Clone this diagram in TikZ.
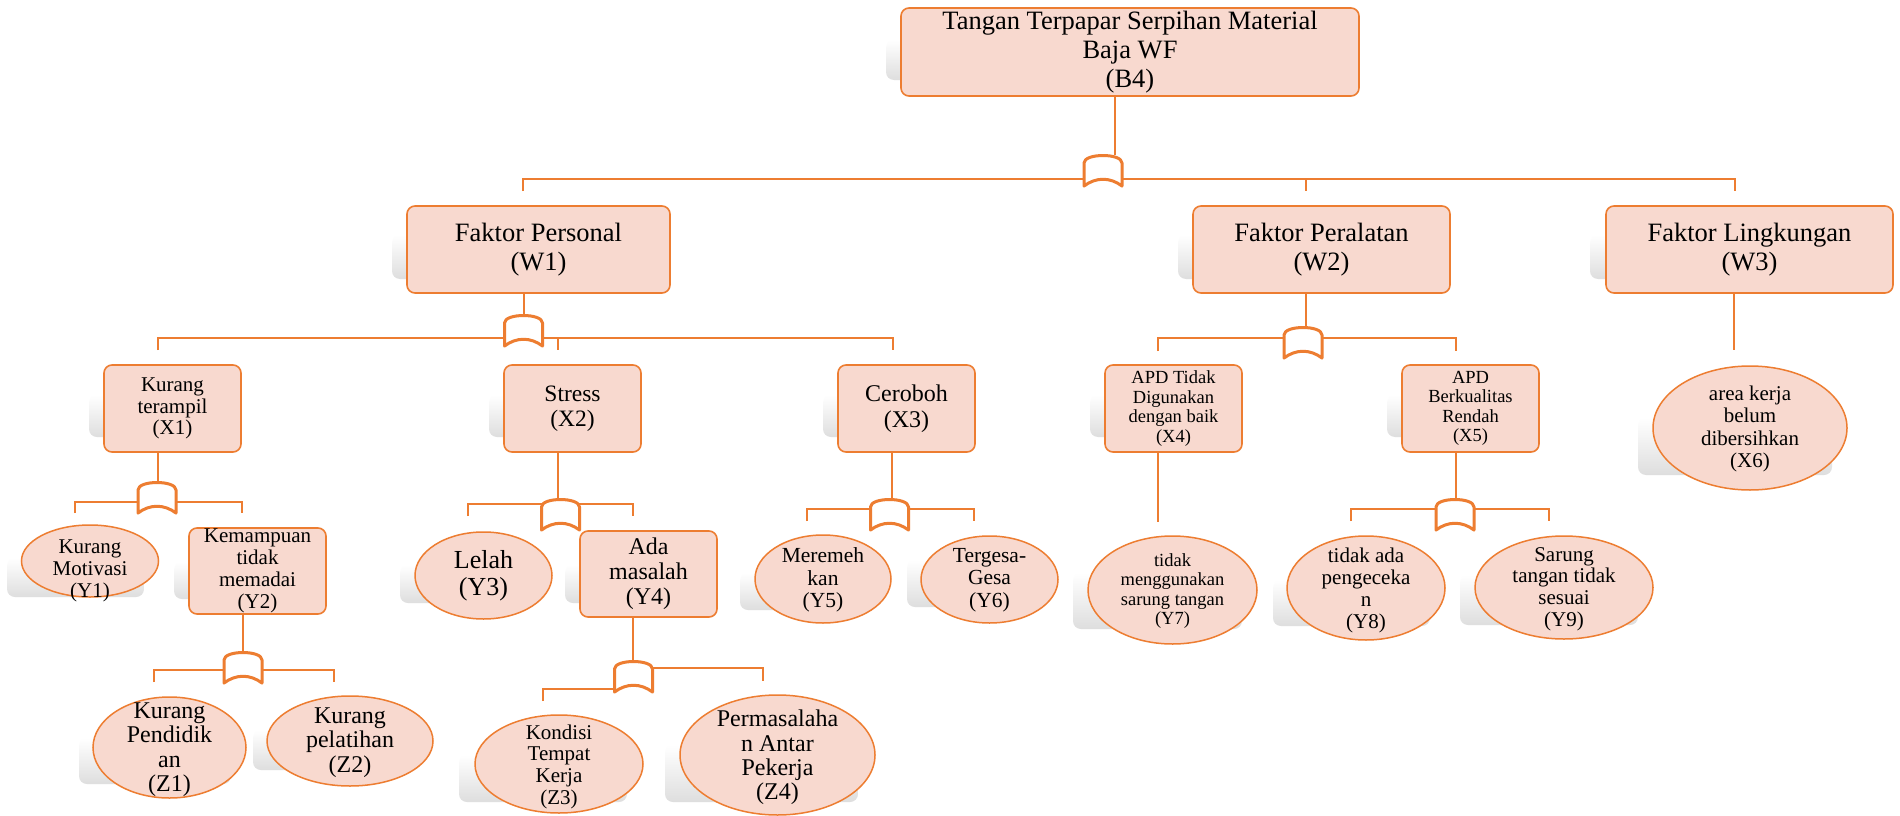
\documentclass[tikz,border=0pt]{standalone}
\usepackage{fontspec}
\setmainfont{Liberation Serif}
\usetikzlibrary{shapes.geometric}
\definecolor{accent}{HTML}{ED7D31}
\definecolor{boxfill}{HTML}{F8D9CF}
\newcommand\setfs[2]{\fontsize{#1}{#2}\selectfont}
\tikzset{
  backdrop/.style={rounded corners=8pt, top color=white, bottom color=black!13, draw=none},
  box/.style={draw=accent, line width=1.6pt, fill=boxfill, rounded corners=8pt,
    inner sep=0pt, align=center, minimum width=137pt, minimum height=87pt},
  oval/.style={ellipse, draw=accent, line width=1.5pt, fill=boxfill, inner sep=0pt},
  txt/.style={align=center, inner sep=0pt},
  wire/.style={draw=accent, line width=1.4pt},
  stem/.style={draw=accent, line width=2pt},
  gateline/.style={draw=accent, line width=3pt, fill=white, line join=round},
  orgate/.pic={
    \path[gateline] (-19,31) -- (-19,8) .. controls (-19,-2) and (19,-2) .. (19,8)
      -- (19,31) .. controls (7,22) and (-7,22) .. cycle;
  }
}
\begin{document}
\begin{tikzpicture}[x=1pt,y=-1pt]
\useasboundingbox[fill=white] (0,0) rectangle (1900,816);

% soft grey panels behind the shapes
\path[backdrop] (886,40) rectangle (1344,80);
\path[backdrop] (392,235) rectangle (655,279);
\path[backdrop] (1178,235) rectangle (1435,279);
\path[backdrop] (1590,235) rectangle (1878,279);
\path[backdrop] (89,395) rectangle (227,437);
\path[backdrop] (489,395) rectangle (626,437);
\path[backdrop] (823,395) rectangle (960,437);
\path[backdrop] (1090,395) rectangle (1227,437);
\path[backdrop] (1387,395) rectangle (1524,437);
\path[backdrop] (1638,418) rectangle (1832,475);
\path[backdrop] (7,558) rectangle (144,597);
\path[backdrop] (174,562) rectangle (311,599);
\path[backdrop] (400,565) rectangle (537,603);
\path[backdrop] (565,565) rectangle (702,603);
\path[backdrop] (740,573) rectangle (876,610);
\path[backdrop] (907,560) rectangle (1043,607);
\path[backdrop] (1073,573) rectangle (1242,629);
\path[backdrop] (1273,580) rectangle (1430,626);
\path[backdrop] (1460,575) rectangle (1638,625);
\path[backdrop] (79,738) rectangle (231,784);
\path[backdrop] (253,730) rectangle (418,770);
\path[backdrop] (459,755) rectangle (627,802);
\path[backdrop] (665,745) rectangle (858,802);

% top event
\node[box, minimum width=458pt, minimum height=88pt, font=\setfs{26.5}{29}] (top) at (1130,52)
  {Tangan Terpapar Serpihan Material\\Baja WF\\(B4)};

% main factors
\node[box, minimum width=263pt, font=\setfs{26.5}{29}] (w1) at (538.5,249.5) {Faktor Personal\\(W1)};
\node[box, minimum width=257pt, font=\setfs{26.5}{29}] (w2) at (1321.5,249.5) {Faktor Peralatan\\(W2)};
\node[box, minimum width=287pt, font=\setfs{26.5}{29}] (w3) at (1749.5,249.5) {Faktor Lingkungan\\(W3)};

% second level
\node[box, font=\setfs{21}{21.7}] (x1) at (172.5,408.5) {Kurang\\terampil\\(X1)};
\node[box, font=\setfs{23.5}{25}] (x2) at (572.5,408.5) {Stress\\(X2)};
\node[box, font=\setfs{24}{26}] (x3) at (906.5,408.5) {Ceroboh\\(X3)};
\node[box, font=\setfs{18.5}{19.5}] (x4) at (1173.5,408.5) {APD Tidak\\Digunakan\\dengan baik\\(X4)};
\node[box, font=\setfs{18.5}{19.5}] (x5) at (1470.5,408.5) {APD\\Berkualitas\\Rendah\\(X5)};
\node[oval, minimum width=194pt, minimum height=124pt] (x6) at (1750,428) {};
\node[txt, font=\setfs{21}{22.3}] (x6t) at (1750,429) {area kerja\\belum\\dibersihkan\\(X6)};

% third level
\node[oval, minimum width=137pt, minimum height=72pt] (y1) at (90,561) {};
\node[txt, font=\setfs{21}{21.7}] (y1t) at (90,571) {Kurang\\Motivasi\\(Y1)};
\node[box, minimum height=86pt, font=\setfs{21}{22}] (y2) at (257.5,571) {Kemampuan\\tidak\\memadai\\(Y2)};
\node[oval, minimum width=137pt, minimum height=87pt] (y3) at (483.5,575.5) {};
\node[txt, font=\setfs{26}{27}] (y3t) at (483.5,576) {Lelah\\(Y3)};
\node[box, minimum height=86pt, font=\setfs{24}{25}] (y4) at (648.5,574) {Ada\\masalah\\(Y4)};
\node[oval, minimum width=136pt, minimum height=88pt] (y5) at (823,579) {};
\node[txt, font=\setfs{21.5}{22.5}] (y5t) at (823,580) {Meremeh\\kan\\(Y5)};
\node[oval, minimum width=137pt, minimum height=87pt] (y6) at (989.5,579.5) {};
\node[txt, font=\setfs{21.5}{22.5}] (y6t) at (989.5,580) {Tergesa-\\Gesa\\(Y6)};
\node[oval, minimum width=169pt, minimum height=108pt] (y7) at (1172.5,590) {};
\node[txt, font=\setfs{18.5}{19.5}] (y7t) at (1172.5,591) {tidak\\menggunakan\\sarung tangan\\(Y7)};
\node[oval, minimum width=158pt, minimum height=104pt] (y8) at (1366,588) {};
\node[txt, font=\setfs{21}{22}] (y8t) at (1366,590) {tidak ada\\pengeceka\\n\\(Y8)};
\node[oval, minimum width=178pt, minimum height=103pt] (y9) at (1564,587.5) {};
\node[txt, font=\setfs{21}{21.7}] (y9t) at (1564,589) {Sarung\\tangan tidak\\sesuai\\(Y9)};

% fourth level
\node[oval, minimum width=153pt, minimum height=101pt] (z1) at (169.5,747.5) {};
\node[txt, font=\setfs{24}{24.5}] (z1t) at (169.5,749.5) {Kurang\\Pendidik\\an\\(Z1)};
\node[oval, minimum width=166pt, minimum height=90pt] (z2) at (350,741) {};
\node[txt, font=\setfs{24}{24.5}] (z2t) at (350,742.5) {Kurang\\pelatihan\\(Z2)};
\node[oval, minimum width=168pt, minimum height=98pt] (z3) at (559,764) {};
\node[txt, font=\setfs{21}{21.7}] (z3t) at (559,766.5) {Kondisi\\Tempat\\Kerja\\(Z3)};
\node[oval, minimum width=195pt, minimum height=120pt] (z4) at (777.5,755) {};
\node[txt, font=\setfs{24}{24.3}] (z4t) at (777.5,757.5) {Permasalaha\\n Antar\\Pekerja\\(Z4)};

% junction points (gate tops and stem feet)
\coordinate (g0) at (1103,155);  \coordinate (j0) at (1115,155);
\coordinate (g1) at (523.5,315); \coordinate (j1) at (524,315);
\coordinate (g2) at (1303,327);  \coordinate (j2) at (1306,327);
\coordinate (j3) at (1734,350);
\coordinate (g3) at (157,482);   \coordinate (j4) at (158,482);
\coordinate (g4) at (560.5,499); \coordinate (j5) at (558,499);
\coordinate (g5) at (889.5,499); \coordinate (j6) at (892,499);
\coordinate (j7) at (1158,522);
\coordinate (g6) at (1455,499);  \coordinate (j8) at (1456,499);
\coordinate (g7) at (243,652);   \coordinate (j9) at (243,652);
\coordinate (g8) at (633.5,661); \coordinate (j10) at (633,661);

% stems from each event down to its gate
\draw[stem] (top.south -| j0) -- (j0);
\draw[wire] (w1.south -| j1) -- (j1);
\draw[wire] (w2.south -| j2) -- (j2);
\draw[wire] (w3.south -| j3) -- (j3);
\draw[wire] (x1.south -| j4) -- (j4);
\draw[wire] (x2.south -| j5) -- (j5);
\draw[wire] (x3.south -| j6) -- (j6);
\draw[wire] (x4.south -| j7) -- (j7);
\draw[wire] (x5.south -| j8) -- (j8);
\draw[wire] (y2.south -| j9) -- (j9);
\draw[wire] (y4.south -| j10) -- (j10);

% branch bars under the gates
\draw[wire] (523,191) -- (523,179) -- (1735,179) -- (1735,191);
\draw[wire] (1306,179) -- (1306,191);
\draw[wire] (158,350) -- (158,338) -- (893,338) -- (893,350);
\draw[wire] (558,338) -- (558,350);
\draw[wire] (1158,351) -- (1158,338) -- (1456,338) -- (1456,351);
\draw[wire] (75,513) -- (75,502) -- (242,502) -- (242,513);
\draw[wire] (468,516) -- (468,504) -- (633,504) -- (633,516);
\draw[wire] (807,521) -- (807,509) -- (974,509) -- (974,521);
\draw[wire] (1351,521) -- (1351,509) -- (1549,509) -- (1549,521);
\draw[wire] (154,682) -- (154,670) -- (334,670) -- (334,682);
\draw[wire] (543,701) -- (543,689) -- (614,689);
\draw[wire] (653,668) -- (763,668) -- (763,681);

% OR gates
\pic at (g0) {orgate};
\pic at (g1) {orgate};
\pic at (g2) {orgate};
\pic at (g3) {orgate};
\pic at (g4) {orgate};
\pic at (g5) {orgate};
\pic at (g6) {orgate};
\pic at (g7) {orgate};
\pic at (g8) {orgate};
\end{tikzpicture}
\end{document}
